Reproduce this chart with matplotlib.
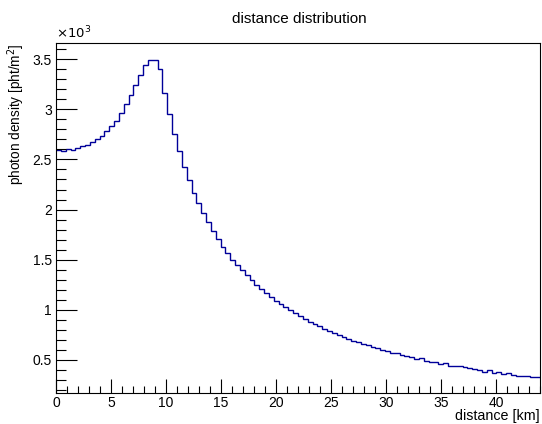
import matplotlib
matplotlib.use("Agg")
import matplotlib.pyplot as plt
import numpy as np
from matplotlib.ticker import MultipleLocator, FuncFormatter

plt.rcParams['font.family'] = ['Liberation Sans', 'DejaVu Sans']

# histogram: 100 bins from 0 to 44 km, photon density in pht/m^2
x_min, x_max, n_bins = 0.0, 44.0, 100
density = [
    2595, 2580, 2605, 2598, 2617, 2630, 2648, 2670, 2700, 2735,
    2780, 2830, 2880, 2960, 3050, 3140, 3240, 3340, 3440, 3490,
    3490, 3407, 3167, 2957, 2757, 2587, 2427, 2293, 2170, 2067,
    1963, 1873, 1783, 1707, 1630, 1567, 1500, 1447, 1397, 1343,
    1297, 1250, 1207, 1167, 1130, 1090, 1057, 1023, 993, 967,
    937, 907, 880, 860, 837, 807, 787, 763, 743, 727,
    710, 690, 677, 660, 643, 627, 617, 600, 590, 567,
    567, 547, 533, 530, 510, 520, 490, 480, 477, 457,
    467, 437, 440, 440, 427, 417, 407, 400, 380, 397,
    367, 377, 357, 367, 350, 337, 337, 337, 323, 323,
]
y_range = (0.165, 3.66)  # in units of 10^3

fig = plt.figure(figsize=(5.42, 4.24), dpi=100)
ax = fig.add_axes([0.1033, 0.0724, 0.8930, 0.8255])

edges = np.linspace(x_min, x_max, n_bins + 1)
vals = np.array(density) / 1000.0
ax.stairs(vals, edges, color='#000099', linewidth=1.0, baseline=None)

ax.set_xlim(x_min, x_max)
ax.set_ylim(*y_range)

ax.xaxis.set_major_locator(MultipleLocator(5))
ax.xaxis.set_minor_locator(MultipleLocator(1))
ax.yaxis.set_major_locator(MultipleLocator(0.5))
ax.yaxis.set_minor_locator(MultipleLocator(0.1))
ax.yaxis.set_major_formatter(FuncFormatter(lambda v, p: '%g' % v))
ax.xaxis.set_major_formatter(FuncFormatter(lambda v, p: '%g' % v))

ax.tick_params(which='both', direction='in', top=False, right=False,
               labelsize=10, width=0.8, colors='black')
ax.tick_params(axis='x', which='major', length=10, pad=2)
ax.tick_params(axis='x', which='minor', length=5)
ax.tick_params(axis='y', which='major', length=15, pad=3)
ax.tick_params(axis='y', which='minor', length=7.5)
for s in ax.spines.values():
    s.set_linewidth(0.8)

ax.set_xlabel('distance [km]', fontsize=10.3, loc='right', labelpad=-1)
ax.set_ylabel('photon density [pht/m$^2$]', fontsize=9.8, loc='top', labelpad=4)
ax.text(0.0, 1.005, r'$\times10^{3}$', transform=ax.transAxes,
        fontsize=9.5, ha='left', va='bottom')
fig.text(0.553, 0.955, 'distance distribution', fontsize=11,
         ha='center', va='center')

fig.savefig('out.png', dpi=100)
